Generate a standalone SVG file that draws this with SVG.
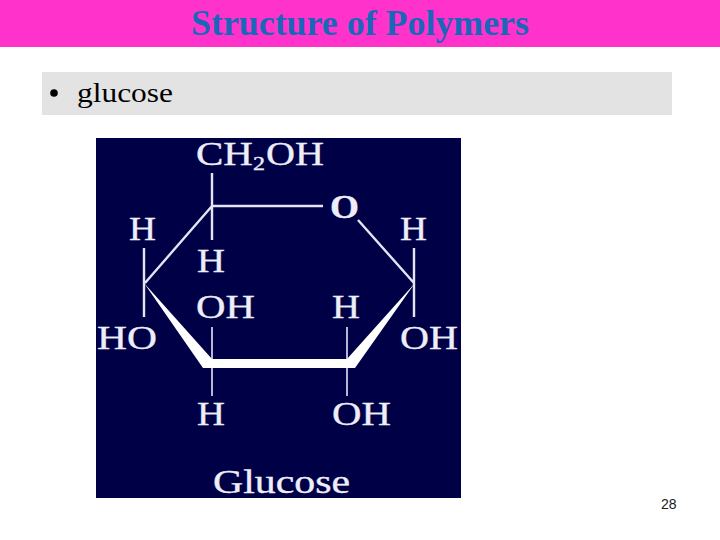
<svg xmlns="http://www.w3.org/2000/svg" width="720" height="540" viewBox="0 0 720 540">
<style>
.t{font-family:"Liberation Serif","Times New Roman",serif}
.c{font-family:"Liberation Serif","Times New Roman",serif;font-size:33px;fill:#eeeef8;stroke:#eeeef8;stroke-width:.35}
.s{font-size:18px}
.l{stroke:#e4e4f4;fill:none;stroke-width:2.4}
.n{stroke:#d8d8ee;fill:none;stroke-width:1.7}
.w{fill:#fff}
</style>
<rect width="720" height="540" fill="#fff"/>
<g id="header"><rect width="720" height="47" fill="#ff33cc"/>
<text class="t" x="191" y="35" font-size="36" font-weight="bold" fill="#1a66b8" textLength="338" lengthAdjust="spacingAndGlyphs">Structure of Polymers</text></g>
<g id="bullet"><rect x="42" y="72" width="630" height="43" fill="#e3e3e3"/>
<circle cx="54" cy="93" r="3.8" fill="#000"/>
<text class="t" x="77" y="102" font-size="27" fill="#000" textLength="96" lengthAdjust="spacingAndGlyphs">glucose</text></g>
<rect id="panel" x="96" y="138" width="365" height="360" fill="#000047"/>
<g id="connectors">
<path class="l" d="M212 173V240M212 206H323M212 206L145 283M144 248V317M358 220L414 283M414 248V317"/>
<path class="n" d="M212 327V396M347 327V396"/>
<polygon class="w" points="144,283 212,359 347,359 415,283 355,368 203,368"/>
</g>
<g id="labels">
<text class="c" x="196" y="165" textLength="57" lengthAdjust="spacingAndGlyphs">CH</text>
<text class="c s" x="253" y="170" textLength="12" lengthAdjust="spacingAndGlyphs">2</text>
<text class="c" x="266" y="165" textLength="58" lengthAdjust="spacingAndGlyphs">OH</text>
<text class="c" x="330" y="218" textLength="29" lengthAdjust="spacingAndGlyphs" style="font-weight:bold">O</text>
<text class="c" x="129" y="240" textLength="27" lengthAdjust="spacingAndGlyphs">H</text>
<text class="c" x="400" y="240" textLength="27" lengthAdjust="spacingAndGlyphs">H</text>
<text class="c" x="197" y="272" textLength="28" lengthAdjust="spacingAndGlyphs">H</text>
<text class="c" x="196" y="318" textLength="59" lengthAdjust="spacingAndGlyphs">OH</text>
<text class="c" x="332" y="318" textLength="28" lengthAdjust="spacingAndGlyphs">H</text>
<text class="c" x="97" y="349" textLength="60" lengthAdjust="spacingAndGlyphs">HO</text>
<text class="c" x="400" y="349" textLength="58" lengthAdjust="spacingAndGlyphs">OH</text>
<text class="c" x="197" y="425" textLength="28" lengthAdjust="spacingAndGlyphs">H</text>
<text class="c" x="332" y="425" textLength="59" lengthAdjust="spacingAndGlyphs">OH</text>
<text class="c" x="213" y="493" textLength="137" lengthAdjust="spacingAndGlyphs">Glucose</text>
</g>
<text id="page" x="661" y="509" font-family="Liberation Sans,Arial,sans-serif" font-size="14" fill="#1a1a1a">28</text>
</svg>
